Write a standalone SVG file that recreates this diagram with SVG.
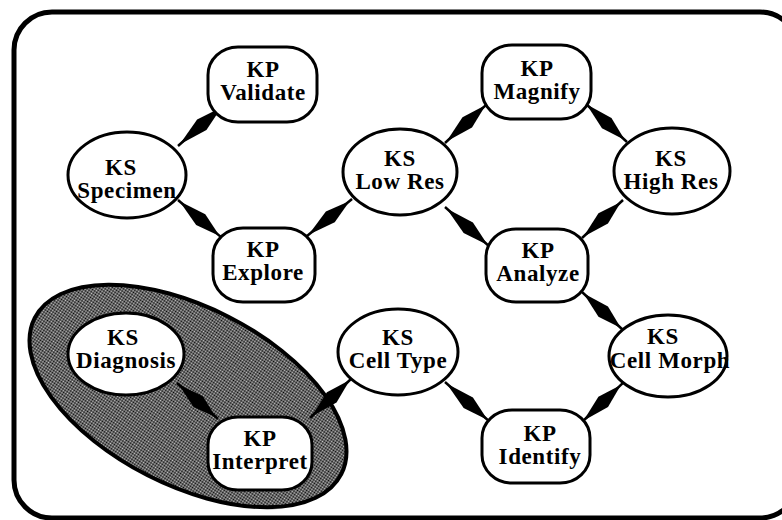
<svg xmlns="http://www.w3.org/2000/svg" xmlns:xlink="http://www.w3.org/1999/xlink" width="782" height="520" viewBox="0 0 782 520">
<style>
.frame{fill:#fff;stroke:#000;stroke-width:5}
.kp,.ks{fill:#fff;stroke:#000;stroke-width:3}
.lbl{font-family:"Liberation Serif","Times New Roman",serif;font-weight:bold;font-size:23px;letter-spacing:0.6px;text-anchor:middle;fill:#000}
.group{fill:url(#dots);stroke:#000;stroke-width:4}
</style>
<defs>
<pattern id="dots" width="2" height="2" patternUnits="userSpaceOnUse">
<rect width="2" height="2" fill="#c8c8c8"/>
<rect width="1" height="1" fill="#000"/>
<rect x="1" y="1" width="1" height="1" fill="#000"/>
</pattern>
<g id="link">
<path d="M0,0 H58" stroke="#000" stroke-width="2.5" fill="none"/>
<path d="M2,0 L30,-7 L55,0 L30,7 Z" fill="#000"/>
</g>
</defs>
<rect class="frame" x="14" y="12" width="784" height="506" rx="38" ry="38"/>
<g id="region-interpret">
<ellipse class="group" cx="188" cy="396" rx="172" ry="89" transform="rotate(27 188 396)"/>
</g>
<g id="connectors">
<use xlink:href="#link" transform="translate(178,146) rotate(-41.7) scale(1.062,1)"/>
<use xlink:href="#link" transform="translate(178,200) rotate(40.8) scale(1.0,1)"/>
<use xlink:href="#link" transform="translate(307,236) rotate(-39.4) scale(1.005,1)"/>
<use xlink:href="#link" transform="translate(445,143) rotate(-42.9) scale(1.012,1)"/>
<use xlink:href="#link" transform="translate(585,103) rotate(42.9) scale(0.988,1)"/>
<use xlink:href="#link" transform="translate(582,238) rotate(-42.8) scale(0.964,1)"/>
<use xlink:href="#link" transform="translate(445,207) rotate(41.6) scale(1.038,1)"/>
<use xlink:href="#link" transform="translate(582,292) rotate(42.8) scale(0.964,1)"/>
<use xlink:href="#link" transform="translate(582,422) rotate(-43.6) scale(0.976,1)"/>
<use xlink:href="#link" transform="translate(445,382) rotate(41.6) scale(1.038,1)"/>
<use xlink:href="#link" transform="translate(310,418) rotate(-43.6) scale(1.0,1)"/>
<use xlink:href="#link" transform="translate(177,383) rotate(41.3) scale(0.941,1)"/>
</g>
<g id="kp-validate">
<rect class="kp" x="208" y="47" width="109" height="75" rx="30" ry="28"/>
<text class="lbl" x="263" y="77">KP</text>
<text class="lbl" x="263" y="100">Validate</text>
</g>
<g id="kp-magnify">
<rect class="kp" x="482" y="45" width="109" height="74" rx="30" ry="28"/>
<text class="lbl" x="537" y="76">KP</text>
<text class="lbl" x="537" y="99">Magnify</text>
</g>
<g id="kp-explore">
<rect class="kp" x="213" y="228" width="102" height="74" rx="30" ry="28"/>
<text class="lbl" x="263" y="257">KP</text>
<text class="lbl" x="263" y="280">Explore</text>
</g>
<g id="kp-analyze">
<rect class="kp" x="486" y="229" width="102" height="73" rx="30" ry="28"/>
<text class="lbl" x="538" y="258">KP</text>
<text class="lbl" x="538" y="281">Analyze</text>
</g>
<g id="kp-identify">
<rect class="kp" x="482" y="410" width="108" height="73" rx="30" ry="28"/>
<text class="lbl" x="540" y="441">KP</text>
<text class="lbl" x="540" y="464">Identify</text>
</g>
<g id="kp-interpret">
<rect class="kp" x="208" y="417" width="104" height="73" rx="30" ry="28"/>
<text class="lbl" x="260" y="446">KP</text>
<text class="lbl" x="260" y="469">Interpret</text>
</g>
<g id="ks-specimen">
<ellipse class="ks" cx="127" cy="175" rx="59" ry="43"/>
<text class="lbl" x="121" y="175">KS</text>
<text class="lbl" x="127" y="198">Specimen</text>
</g>
<g id="ks-lowres">
<ellipse class="ks" cx="400" cy="172" rx="57" ry="43"/>
<text class="lbl" x="400" y="166">KS</text>
<text class="lbl" x="400" y="189">Low Res</text>
</g>
<g id="ks-highres">
<ellipse class="ks" cx="672" cy="171" rx="58" ry="43"/>
<text class="lbl" x="671" y="166">KS</text>
<text class="lbl" x="671" y="189">High Res</text>
</g>
<g id="ks-cellmorph">
<ellipse class="ks" cx="668" cy="356" rx="59" ry="41"/>
<text class="lbl" x="663" y="344">KS</text>
<text class="lbl" x="670" y="368">Cell Morph</text>
</g>
<g id="ks-celltype">
<ellipse class="ks" cx="398" cy="352" rx="60" ry="43"/>
<text class="lbl" x="398" y="345">KS</text>
<text class="lbl" x="398" y="368">Cell Type</text>
</g>
<g id="ks-diagnosis">
<ellipse class="ks" cx="126" cy="354" rx="58" ry="41"/>
<text class="lbl" x="123" y="345">KS</text>
<text class="lbl" x="126" y="368">Diagnosis</text>
</g>
</svg>
